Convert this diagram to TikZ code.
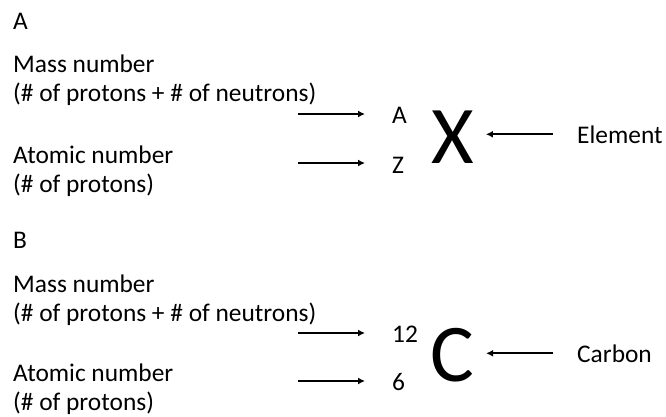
\documentclass[tikz,border=0pt]{standalone}
\usepackage{fontspec}
\setmainfont{Carlito}
\usetikzlibrary{arrows.meta}
\tikzset{lbl/.style={anchor=base west,inner sep=0pt,align=left,font=\fontsize{25.4}{29}\selectfont},
big/.style={anchor=base west,inner sep=0pt,font=\fontsize{82}{82}\selectfont},
arr/.style={->,line width=1.6pt}}

\begin{document}
\begin{tikzpicture}[x=1pt,y=-1pt,>={Latex[length=7pt,width=7pt]}]
\useasboundingbox (0,0) rectangle (666,416);
% part A
\node[lbl](ttlA)at(13,29){A};
\node[lbl](massA)at(13,101){Mass number\\(\# of protons + \# of neutrons)};
\node[lbl](atomA)at(13,192){Atomic number\\(\# of protons)};
\node[lbl](supA)at(392,123){A};
\node[lbl](subA)at(392,173){Z};
\node[big](symX)at(431,163){X};
\node[lbl](elem)at(577,143){Element};
\coordinate(mA)at(298,114);
\coordinate(aA)at(298,163);
\draw[arr,shorten >=27pt](mA)--(mA-|supA.west);
\draw[arr,shorten >=27pt](aA)--(aA-|subA.west);
\draw[arr,shorten <=24pt,shorten >=12pt](elem.west)--(elem.west-|symX.east);
% part B
\node[lbl](ttlB)at(13,248){B};
\node[lbl](massB)at(13,321){Mass number\\(\# of protons + \# of neutrons)};
\node[lbl](atomB)at(13,410){Atomic number\\(\# of protons)};
\node[lbl](supB)at(392,342){12};
\node[lbl](subB)at(392,390){6};
\node[big](symC)at(430,381){C};
\node[lbl](carb)at(577,362){Carbon};
\coordinate(mB)at(298,333);
\coordinate(aB)at(298,381);
\draw[arr,shorten >=27pt](mB)--(mB-|supB.west);
\draw[arr,shorten >=27pt](aB)--(aB-|subB.west);
\draw[arr,shorten <=24pt,shorten >=12pt](carb.west)--(carb.west-|symC.east);
\end{tikzpicture}
\end{document}
